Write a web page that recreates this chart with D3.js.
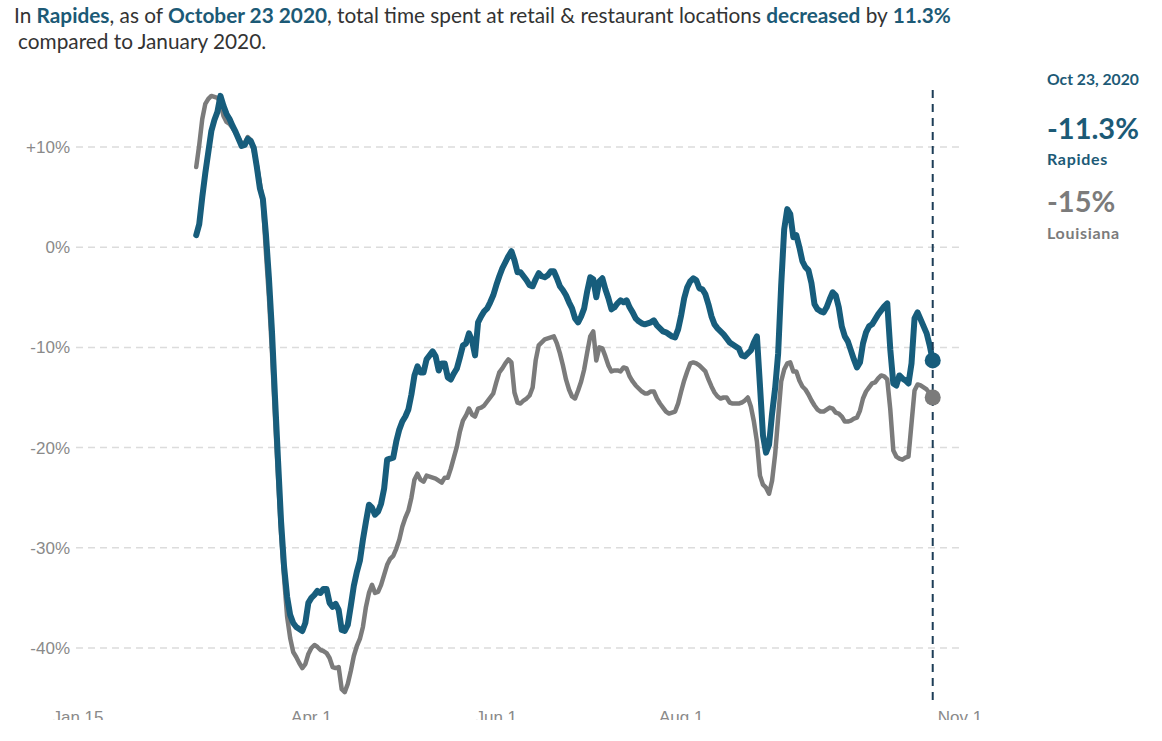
<!DOCTYPE html>
<meta charset="utf-8">
<script src="https://d3js.org/d3.v7.min.js"></script>
<style>
  body { margin: 0; background: #fff; }
  svg text { font-family: Lato, "Open Sans", sans-serif; }
</style>
<div id="chart"></div>
<script>
// daily 7-day averages, Feb 23 2020 .. Oct 23 2020 (% change vs January)
var startDate = "2020-02-23";
var rapidesValues = [
  1.2, 2.3, 5.0, 7.4, 9.5, 11.6, 12.7, 13.5, 15.1, 14.1,
  13.3, 12.8, 12.1, 11.5, 10.8, 10.1, 10.2, 10.8, 10.6, 9.9,
  8.0, 5.9, 4.8, 1.3, -3.1, -8.4, -15.0, -21.3, -27.4, -31.9,
  -34.9, -36.7, -37.5, -37.9, -38.1, -38.3, -37.5, -35.5, -35.0, -34.7,
  -34.3, -34.5, -34.1, -34.1, -35.5, -35.9, -35.6, -36.2, -38.2, -38.3,
  -37.7, -35.8, -33.8, -32.4, -31.3, -29.2, -27.4, -25.7, -26.0, -26.7,
  -26.4, -25.6, -24.1, -21.2, -21.1, -21.0, -19.4, -18.2, -17.4, -16.9,
  -16.2, -14.7, -12.8, -11.9, -12.5, -12.5, -11.2, -10.8, -10.4, -10.9,
  -12.3, -11.6, -11.6, -13.0, -13.2, -12.6, -12.1, -11.0, -9.8, -9.6,
  -8.6, -9.3, -10.8, -7.5, -6.9, -6.4, -6.1, -5.5, -4.8, -3.8,
  -2.9, -2.1, -1.5, -0.9, -0.4, -1.3, -2.5, -2.5, -2.9, -3.3,
  -3.8, -3.9, -3.2, -2.6, -2.9, -3.0, -2.8, -2.4, -2.4, -3.1,
  -3.9, -4.3, -4.8, -5.5, -6.1, -7.1, -7.5, -6.9, -6.1, -4.4,
  -3.0, -3.2, -5.0, -3.4, -3.1, -4.2, -5.1, -6.2, -6.0, -5.6,
  -5.3, -5.5, -5.3, -6.0, -6.5, -7.1, -7.4, -7.6, -7.7, -7.6,
  -7.5, -7.3, -7.8, -8.1, -8.4, -8.5, -8.7, -8.9, -9.0, -8.2,
  -6.8, -5.1, -4.0, -3.4, -3.1, -3.3, -4.1, -4.2, -4.7, -5.7,
  -6.9, -7.7, -8.1, -8.4, -8.7, -9.1, -9.5, -9.7, -9.9, -10.1,
  -10.8, -10.9, -10.6, -10.3, -9.5, -8.9, -13.8, -18.8, -20.5, -19.7,
  -16.6, -14.1, -10.6, -3.8, 1.8, 3.8, 3.3, 1.0, 1.2, 0.0,
  -1.4, -2.0, -2.3, -3.6, -5.7, -6.2, -6.4, -6.5, -6.0, -5.2,
  -4.5, -4.8, -6.0, -7.9, -8.9, -9.4, -10.3, -11.2, -12.0, -11.5,
  -9.6, -8.5, -7.9, -7.7, -7.2, -6.7, -6.3, -5.9, -5.6, -10.2,
  -13.6, -13.8, -12.8, -13.1, -13.3, -13.6, -11.6, -7.1, -6.5, -7.2,
  -7.9, -8.6, -9.8, -11.3
];
var louisianaValues = [
  8.0, 10.2, 12.8, 14.3, 14.8, 15.1, 15.0, 14.9, 14.5, 13.1,
  12.5, 12.3, 11.9, 11.4, 10.9, 10.3, 10.4, 11.0, 10.7, 9.6,
  8.2, 6.4, 4.5, -0.5, -5.0, -10.5, -17.0, -23.0, -28.6, -33.0,
  -36.9, -39.0, -40.4, -40.9, -41.5, -42.0, -41.6, -40.6, -40.0, -39.7,
  -39.9, -40.2, -40.3, -40.5, -41.0, -41.9, -42.0, -41.9, -44.1, -44.4,
  -43.6, -42.3, -40.8, -39.8, -39.1, -37.9, -35.9, -34.5, -33.7, -34.5,
  -34.4, -33.7, -32.7, -31.7, -31.1, -30.8, -30.1, -29.2, -27.9, -27.0,
  -26.3, -25.0, -23.2, -22.6, -23.2, -23.4, -22.8, -22.9, -23.0, -23.1,
  -23.3, -23.5, -23.0, -23.0, -22.1, -21.0, -19.9, -18.4, -17.3, -16.8,
  -16.1, -16.7, -16.9, -16.1, -16.0, -15.8, -15.4, -15.0, -14.6, -13.5,
  -12.5, -12.1, -11.6, -11.2, -11.5, -14.5, -15.5, -15.6, -15.3, -15.1,
  -14.8, -14.0, -11.3, -9.8, -9.5, -9.2, -9.1, -9.0, -8.9, -9.6,
  -10.6, -11.8, -13.2, -14.2, -14.9, -15.1, -14.3, -13.4, -12.2, -10.5,
  -8.9, -8.4, -11.3, -10.0, -10.1, -10.9, -11.8, -12.4, -12.3, -12.3,
  -12.4, -12.0, -12.1, -12.9, -13.4, -13.8, -14.1, -14.4, -14.6, -14.6,
  -14.4, -14.4, -15.1, -15.6, -16.0, -16.4, -16.6, -16.5, -16.4, -15.6,
  -14.4, -13.3, -12.4, -11.6, -11.5, -11.6, -11.8, -12.1, -12.4, -13.2,
  -13.9, -14.5, -14.9, -15.1, -15.0, -15.0, -15.5, -15.6, -15.6, -15.6,
  -15.5, -15.3, -15.0, -15.9, -17.4, -19.4, -22.8, -23.7, -24.0, -24.6,
  -23.3, -20.7, -17.0, -13.4, -12.2, -11.6, -11.5, -12.4, -12.4, -13.3,
  -13.9, -14.2, -14.7, -15.3, -15.8, -16.2, -16.4, -16.4, -16.2, -16.0,
  -16.1, -16.5, -16.6, -16.9, -17.4, -17.4, -17.3, -17.1, -17.0, -16.3,
  -15.1, -14.4, -14.0, -13.6, -13.5, -13.1, -12.8, -12.9, -13.2, -16.2,
  -20.3, -20.9, -21.1, -21.2, -21.0, -20.9, -17.6, -14.3, -13.7, -13.8,
  -14.0, -14.2, -14.6, -15.0
];
var yTicks = [10, 0, -10, -20, -30, -40];
var xTickDates = ["2020-01-15", "2020-04-01", "2020-06-01", "2020-08-01", "2020-11-01"];
var xDomain = ["2020-01-15", "2020-11-01"];
var county = "Rapides", state = "Louisiana";
var latestLabel = "Oct 23, 2020";
var latestRapides = "-11.3%", latestLouisiana = "-15%";

var blue = "#175d7c", grey = "#7b7b7b", darkBlue = "#1c5a76";

var W = 1162, H = 741;
var parse = d3.timeParse("%Y-%m-%d");
var start = parse(startDate);
var dates = rapidesValues.map(function(v, i) { return d3.timeDay.offset(start, i); });

var svg = d3.select("#chart").append("svg")
  .attr("width", W).attr("height", H);

var x = d3.scaleTime()
  .domain(xDomain.map(parse))
  .range([78, 960]);
var y = d3.scaleLinear()
  .domain([10, -40])
  .range([147, 648]);

// headline
var head = svg.append("text").attr("x", 14).attr("y", 23)
  .attr("font-size", "20.8px").attr("fill", "#333");
head.append("tspan").text("In ");
head.append("tspan").attr("font-weight", "bold").attr("fill", darkBlue).text(county);
head.append("tspan").text(", as of ");
head.append("tspan").attr("font-weight", "bold").attr("fill", darkBlue).text("October 23 2020");
head.append("tspan").text(", total time spent at retail & restaurant locations ");
head.append("tspan").attr("font-weight", "bold").attr("fill", darkBlue).text("decreased");
head.append("tspan").text(" by ");
head.append("tspan").attr("font-weight", "bold").attr("fill", darkBlue).text("11.3%");
svg.append("text").attr("x", 18).attr("y", 49)
  .attr("font-size", "20.8px").attr("fill", "#333")
  .text("compared to January 2020.");

// grid + y labels
var grid = svg.append("g");
grid.selectAll("line").data(yTicks).enter().append("line")
  .attr("x1", 76).attr("x2", 962)
  .attr("y1", function(d) { return y(d); })
  .attr("y2", function(d) { return y(d); })
  .attr("stroke", "#dcdcdc").attr("stroke-width", 1.5)
  .attr("stroke-dasharray", "7,5");
grid.selectAll("text").data(yTicks).enter().append("text")
  .attr("x", 70)
  .attr("y", function(d) { return y(d) + 6; })
  .attr("text-anchor", "end")
  .style("font-family", "'Liberation Sans', Arial, sans-serif")
  .attr("font-size", "17px").attr("fill", "#8a8a8a")
  .text(function(d) { return (d > 0 ? "+" : "") + d + "%"; });

// x labels, clipped at the bottom like the original
svg.append("clipPath").attr("id", "xclip")
  .append("rect").attr("x", 0).attr("y", 690).attr("width", W).attr("height", 30);
var xAxis = svg.append("g")
  .attr("clip-path", "url(#xclip)");
xAxis.selectAll("text").data(xTickDates.map(parse)).enter().append("text")
  .attr("x", function(d) { return x(d); })
  .attr("y", 723)
  .attr("text-anchor", "middle")
  .style("font-family", "'Liberation Sans', Arial, sans-serif")
  .attr("font-size", "17px").attr("fill", "#8a8a8a")
  .text(d3.timeFormat("%b %-d"));

// lines
var line = d3.line()
  .x(function(d) { return x(d[0]); })
  .y(function(d) { return y(d[1]); });

svg.append("path")
  .datum(dates.map(function(d, i) { return [d, louisianaValues[i]]; }))
  .attr("d", line)
  .attr("fill", "none").attr("stroke", grey).attr("stroke-width", 4.5)
  .attr("stroke-linejoin", "round").attr("stroke-linecap", "round");

svg.append("path")
  .datum(dates.map(function(d, i) { return [d, rapidesValues[i]]; }))
  .attr("d", line)
  .attr("fill", "none").attr("stroke", blue).attr("stroke-width", 6)
  .attr("stroke-linejoin", "round").attr("stroke-linecap", "round");

// latest-date marker
var last = dates[dates.length - 1];
svg.append("line")
  .attr("x1", x(last)).attr("x2", x(last))
  .attr("y1", 90).attr("y2", 700)
  .attr("stroke", "#1d3d57").attr("stroke-width", 2)
  .attr("stroke-dasharray", "8,6");

svg.append("circle")
  .attr("cx", x(last)).attr("cy", y(louisianaValues[louisianaValues.length - 1]))
  .attr("r", 8).attr("fill", grey);
svg.append("circle")
  .attr("cx", x(last)).attr("cy", y(rapidesValues[rapidesValues.length - 1]))
  .attr("r", 8).attr("fill", blue);

// side annotation
var ann = svg.append("g").attr("transform", "translate(1047,0)");
ann.append("text").attr("y", 85).attr("font-size", "15.7px").attr("font-weight", "bold")
  .attr("fill", darkBlue).text(latestLabel);
ann.append("text").attr("y", 139).attr("font-size", "29px").attr("font-weight", "bold")
  .attr("fill", darkBlue).text(latestRapides);
ann.append("text").attr("y", 165).attr("font-size", "16px").attr("font-weight", "bold")
  .attr("letter-spacing", "0.7px")
  .attr("fill", darkBlue).text(county);
ann.append("text").attr("y", 212).attr("font-size", "29px").attr("font-weight", "bold")
  .attr("fill", grey).text(latestLouisiana);
ann.append("text").attr("y", 239).attr("font-size", "16px").attr("font-weight", "bold")
  .attr("letter-spacing", "0.7px")
  .attr("fill", grey).text(state);
</script>
